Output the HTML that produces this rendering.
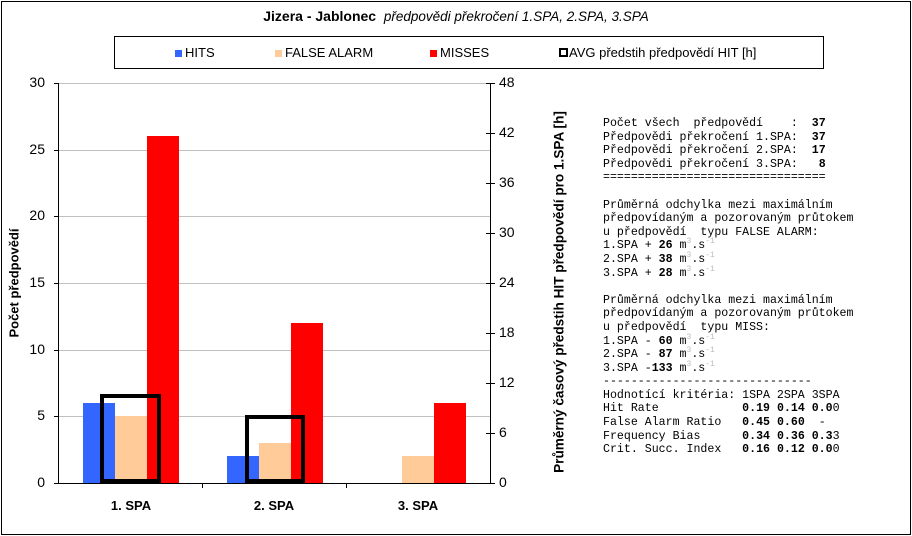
<!DOCTYPE html>
<html><head><meta charset="utf-8"><style>
body{margin:0;width:912px;height:536px;background:#fff;position:relative;overflow:hidden;font-family:"Liberation Sans",sans-serif}
.a{position:absolute}
.g{position:absolute;left:58px;width:432px;height:1px;background:#c0c0c0}
.yl{position:absolute;font-size:14px;width:30px;text-align:right;left:15px}
.yr{position:absolute;font-size:14px;left:499px}
.tl{position:absolute;left:54px;width:4px;height:1px;background:#000}
.tr{position:absolute;left:486px;width:9px;height:1px;background:#000}
.mono{position:absolute;left:603px;top:117px;font-family:"Liberation Mono",monospace;font-size:11.6px;line-height:13.6px;white-space:pre;color:#000}
.mono sup{color:#bbb;font-size:8px;line-height:0}
</style></head><body>
<div class="a" style="left:1px;top:1px;width:908px;height:532px;border:1px solid #000"></div>
<div class="a" style="left:0;top:8px;width:912px;text-align:center;font-size:14px"><b>Jizera - Jablonec</b>&nbsp; <i style="font-size:13.5px">předpovědi překročení 1.SPA, 2.SPA, 3.SPA</i></div>
<div class="a" style="left:114px;top:36px;width:708px;height:31px;border:1px solid #000"></div>
<div class="a" style="top:45px;left:175px;font-size:13px"><span style="display:inline-block;width:7px;height:7px;background:#3366ff;margin-right:3px"></span>HITS</div>
<div class="a" style="top:45px;left:275px;font-size:13px"><span style="display:inline-block;width:7px;height:7px;background:#ffcc99;margin-right:3px"></span>FALSE ALARM</div>
<div class="a" style="top:45px;left:430px;font-size:13px"><span style="display:inline-block;width:7px;height:7px;background:#ff0000;margin-right:3px"></span>MISSES</div>
<div class="a" style="top:45px;left:559px;font-size:13px"><span style="display:inline-block;width:5px;height:5px;border:2px solid #000;margin-right:1px"></span>AVG předstih předpovědí HIT [h]</div>

<div class="g" style="top:83px"></div><div class="g" style="top:150px"></div><div class="g" style="top:216px"></div><div class="g" style="top:283px"></div><div class="g" style="top:350px"></div><div class="g" style="top:416px"></div>

<div class="a" style="left:83px;top:403px;width:32px;height:80px;background:#3366ff"></div>
<div class="a" style="left:115px;top:416px;width:32px;height:67px;background:#ffcc99"></div>
<div class="a" style="left:147px;top:136px;width:32px;height:347px;background:#ff0000"></div>
<div class="a" style="left:227px;top:456px;width:32px;height:27px;background:#3366ff"></div>
<div class="a" style="left:259px;top:443px;width:32px;height:40px;background:#ffcc99"></div>
<div class="a" style="left:291px;top:323px;width:32px;height:160px;background:#ff0000"></div>
<div class="a" style="left:402px;top:456px;width:32px;height:27px;background:#ffcc99"></div>
<div class="a" style="left:434px;top:403px;width:32px;height:80px;background:#ff0000"></div>
<div class="a" style="left:100px;top:394px;width:53px;height:81px;border:4px solid #000"></div>
<div class="a" style="left:245px;top:415px;width:52px;height:60px;border:4px solid #000"></div>

<div class="a" style="left:58px;top:83px;width:1px;height:401px;background:#000"></div>
<div class="a" style="left:490px;top:83px;width:1px;height:401px;background:#000"></div>
<div class="a" style="left:58px;top:483px;width:432px;height:1px;background:#000"></div>
<div class="a" style="left:202px;top:483px;width:1px;height:5px;background:#000"></div>
<div class="a" style="left:346px;top:483px;width:1px;height:5px;background:#000"></div>

<div class="tl" style="top:83px"></div><div class="tl" style="top:150px"></div><div class="tl" style="top:216px"></div><div class="tl" style="top:283px"></div><div class="tl" style="top:350px"></div><div class="tl" style="top:416px"></div><div class="tl" style="top:483px"></div>
<div class="yl" style="top:74px">30</div><div class="yl" style="top:141px">25</div><div class="yl" style="top:207px">20</div><div class="yl" style="top:274px">15</div><div class="yl" style="top:341px">10</div><div class="yl" style="top:407px">5</div><div class="yl" style="top:474px">0</div>

<div class="tr" style="top:83px"></div><div class="tr" style="top:133px"></div><div class="tr" style="top:183px"></div><div class="tr" style="top:233px"></div><div class="tr" style="top:283px"></div><div class="tr" style="top:333px"></div><div class="tr" style="top:383px"></div><div class="tr" style="top:433px"></div><div class="tr" style="top:483px"></div>
<div class="yr" style="top:74px">48</div><div class="yr" style="top:124px">42</div><div class="yr" style="top:174px">36</div><div class="yr" style="top:224px">30</div><div class="yr" style="top:274px">24</div><div class="yr" style="top:324px">18</div><div class="yr" style="top:374px">12</div><div class="yr" style="top:424px">6</div><div class="yr" style="top:474px">0</div>

<div class="a" style="left:101px;top:498px;width:60px;text-align:center;font-size:13px;font-weight:bold">1. SPA</div>
<div class="a" style="left:244px;top:498px;width:60px;text-align:center;font-size:13px;font-weight:bold">2. SPA</div>
<div class="a" style="left:388px;top:498px;width:60px;text-align:center;font-size:13px;font-weight:bold">3. SPA</div>

<div class="a" style="left:14px;top:283px;font-size:13px;font-weight:bold;white-space:nowrap;transform:translate(-50%,-50%) rotate(-90deg)">Počet předpovědí</div>
<div class="a" style="left:559px;top:292px;font-size:13.6px;font-weight:bold;white-space:nowrap;transform:translate(-50%,-50%) rotate(-90deg)">Průměrný časový předstih HIT předpovědí pro 1.SPA [h]</div>

<div class="mono">Počet všech  předpovědí    :  <b>37</b>
Předpovědi překročení 1.SPA:  <b>37</b>
Předpovědi překročení 2.SPA:  <b>17</b>
Předpovědi překročení 3.SPA:   <b>8</b>
================================

Průměrná odchylka mezi maximálním
předpovídaným a pozorovaným průtokem
u předpovědí  typu FALSE ALARM:
1.SPA + <b>26</b> m<sup>3</sup>.s<sup>-1</sup>
2.SPA + <b>38</b> m<sup>3</sup>.s<sup>-1</sup>
3.SPA + <b>28</b> m<sup>3</sup>.s<sup>-1</sup>

Průměrná odchylka mezi maximálním
předpovídaným a pozorovaným průtokem
u předpovědí  typu MISS:
1.SPA - <b>60</b> m<sup>3</sup>.s<sup>-1</sup>
2.SPA - <b>87</b> m<sup>3</sup>.s<sup>-1</sup>
3.SPA -<b>133</b> m<sup>3</sup>.s<sup>-1</sup>
------------------------------
Hodnotící kritéria: 1SPA 2SPA 3SPA
Hit Rate            <b>0.19 0.14 0.0</b>0
False Alarm Ratio   <b>0.45 0.60</b>  -
Frequency Bias      <b>0.34 0.36 0.3</b>3
Crit. Succ. Index   <b>0.16 0.12 0.0</b>0</div>
</body></html>
